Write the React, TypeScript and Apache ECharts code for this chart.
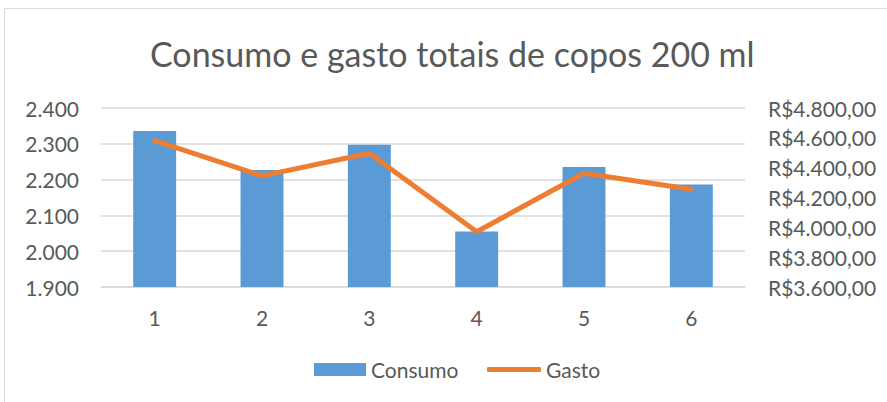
import React, { useEffect, useRef } from "react";
import * as echarts from "echarts";

const categories = ["1", "2", "3", "4", "5", "6"];
const consumo = [2336, 2227, 2297, 2055, 2235, 2186];
const gasto = [4582, 4345, 4497, 3970, 4363, 4255];
const titleText = "Consumo e gasto totais de copos 200 ml";

const FONT = "Lato, 'Open Sans', sans-serif";
const TXT = "#595959";

function fmtLeft(v: number) {
  const int = Math.round(v).toString().replace(/\B(?=(\d{3})+(?!\d))/g, ".");
  return int;
}
function fmtRight(v: number) {
  const s = v.toFixed(2).split(".");
  const int = s[0].replace(/\B(?=(\d{3})+(?!\d))/g, ".");
  return "R$" + int + "," + s[1];
}

export default function App() {
  const ref = useRef<HTMLDivElement>(null);
  useEffect(() => {
    document.body.style.margin = "0";
    const chart = echarts.init(ref.current!, undefined, { renderer: "svg" });
    chart.setOption({
      animation: false,
      backgroundColor: "#ffffff",
      title: {
        text: titleText,
        left: 150,
        top: 36,
        padding: 0,
        textStyle: { fontFamily: FONT, fontSize: 34, fontWeight: "normal", color: TXT },
      },
      graphic: [
        {
          type: "rect",
          shape: { x: 4.5, y: 8.5, width: 900, height: 420 },
          style: { fill: "none", stroke: "#D9D9D9", lineWidth: 1 },
          silent: true,
          z: -10,
        },
      ],
      legend: [
        {
          data: [{ name: "Consumo", icon: "rect" }],
          left: 314,
          top: 359,
          padding: 0,
          itemWidth: 52,
          itemHeight: 13,
          textStyle: { fontFamily: FONT, fontSize: 21, color: TXT },
        },
        {
          data: [{ name: "Gasto", icon: "roundRect" }],
          left: 487,
          top: 359,
          padding: 0,
          itemWidth: 54,
          itemHeight: 5,
          textStyle: { fontFamily: FONT, fontSize: 21, color: TXT },
        },
      ],
      grid: { left: 101, right: 142, top: 108, bottom: 115 },
      xAxis: {
        type: "category",
        data: categories,
        axisLine: { show: true, lineStyle: { color: "#D9D9D9", width: 1.5 } },
        axisTick: { show: false },
        axisLabel: { fontFamily: FONT, fontSize: 21, color: TXT, margin: 20 },
      },
      yAxis: [
        {
          type: "value",
          min: 1900,
          max: 2400,
          interval: 100,
          position: "left",
          axisLine: { show: false },
          axisTick: { show: false },
          splitLine: { lineStyle: { color: "#D9D9D9", width: 1.5 } },
          axisLabel: { fontFamily: FONT, fontSize: 21, color: TXT, margin: 22, formatter: (v: number) => fmtLeft(v) },
        },
        {
          type: "value",
          min: 3600,
          max: 4800,
          interval: 200,
          position: "right",
          axisLine: { show: false },
          axisTick: { show: false },
          splitLine: { show: false },
          axisLabel: { fontFamily: FONT, fontSize: 21, color: TXT, margin: 23, formatter: (v: number) => fmtRight(v) },
        },
      ],
      series: [
        {
          name: "Consumo",
          type: "bar",
          data: consumo,
          barWidth: "40%",
          itemStyle: { color: "#5B9BD5" },
          yAxisIndex: 0,
        },
        {
          name: "Gasto",
          type: "line",
          data: gasto,
          yAxisIndex: 1,
          symbol: "none",
          lineStyle: { color: "#ED7D31", width: 5, cap: "round", join: "round" },
          itemStyle: { color: "#ED7D31" },
        },
      ],
    });
    return () => chart.dispose();
  }, []);
  return <div ref={ref} style={{ width: 887, height: 402 }} />;
}
